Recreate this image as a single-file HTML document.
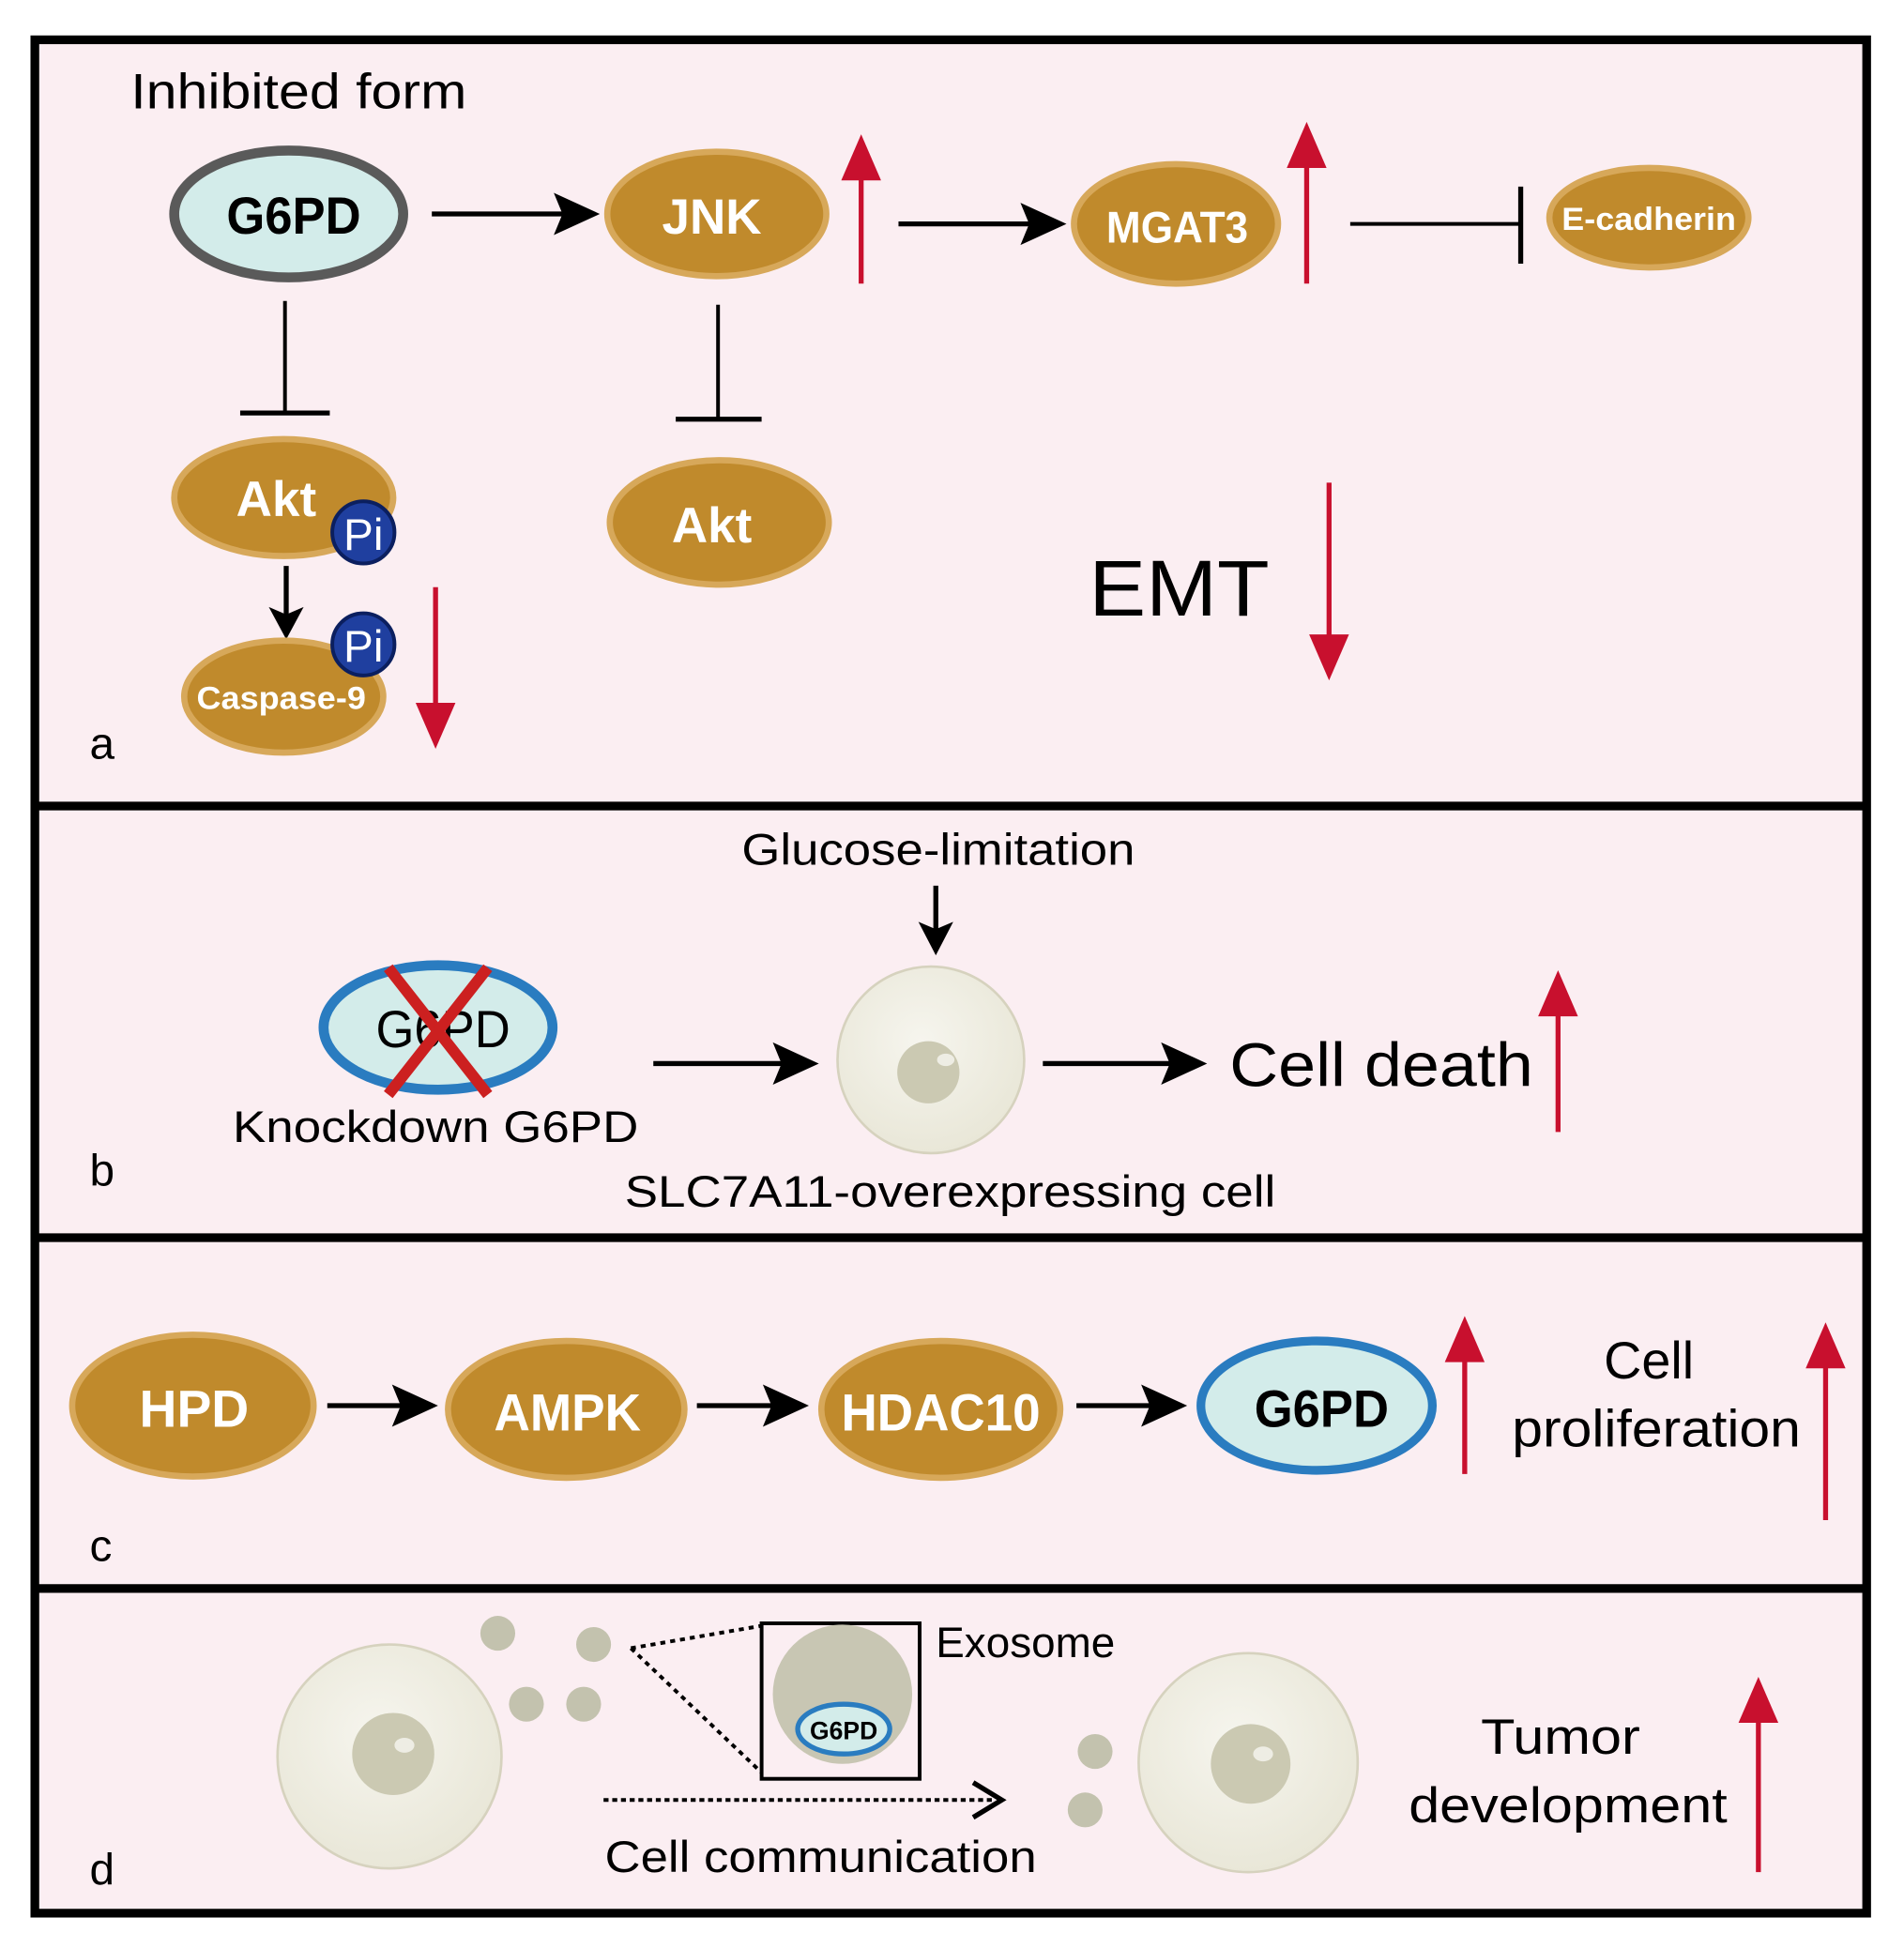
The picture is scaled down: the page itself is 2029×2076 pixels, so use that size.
<!DOCTYPE html>
<html><head><meta charset="utf-8"><style>html,body{margin:0;padding:0;background:#fff}svg{display:block}</style></head>
<body>
<svg width="2029" height="2076" viewBox="0 0 1530 1566" preserveAspectRatio="none" xmlns="http://www.w3.org/2000/svg" font-family="Liberation Sans, sans-serif">
<defs>
<radialGradient id="cell" cx="0.45" cy="0.4" r="0.6"><stop offset="0" stop-color="#f6f5ee"/><stop offset="1" stop-color="#e9e7d8"/></radialGradient>
</defs>
<rect x="0" y="0" width="1530" height="1566" fill="#fff"/>
<rect x="28" y="32" width="1472" height="1506" fill="#fbeef2" stroke="#000" stroke-width="7"/>
<line x1="28" y1="648" x2="1500" y2="648" stroke="#000" stroke-width="7"/>
<line x1="28" y1="995" x2="1500" y2="995" stroke="#000" stroke-width="7"/>
<line x1="28" y1="1277" x2="1500" y2="1277" stroke="#000" stroke-width="7"/>

<g id="a">
<text x="105" y="87" font-size="40" textLength="270" lengthAdjust="spacingAndGlyphs">Inhibited form</text>
<ellipse cx="232" cy="172" rx="92" ry="51" fill="#d3ecea" stroke="#5a5a5a" stroke-width="8"/>
<text x="236" y="188" font-size="42" font-weight="bold" text-anchor="middle" textLength="108" lengthAdjust="spacingAndGlyphs">G6PD</text>
<line x1="347" y1="172" x2="455" y2="172" stroke="#000" stroke-width="4"/>
<polygon points="482,172 445,155 452,172 445,189" fill="#000"/>
<ellipse cx="576" cy="172" rx="88" ry="50" fill="#c08a2c" stroke="#d7a85a" stroke-width="5"/>
<text x="572" y="188" font-size="40" font-weight="bold" fill="#fff" text-anchor="middle">JNK</text>
<line x1="692" y1="228" x2="692" y2="140" stroke="#c8102e" stroke-width="4"/>
<polygon points="692,108 676,145 708,145" fill="#c8102e"/>
<line x1="722" y1="180" x2="830" y2="180" stroke="#000" stroke-width="4"/>
<polygon points="857,180 820,163 827,180 820,197" fill="#000"/>
<ellipse cx="945" cy="180" rx="82" ry="48" fill="#c08a2c" stroke="#d7a85a" stroke-width="5"/>
<text x="946" y="195" font-size="36" font-weight="bold" fill="#fff" text-anchor="middle" textLength="114" lengthAdjust="spacingAndGlyphs">MGAT3</text>
<line x1="1050" y1="228" x2="1050" y2="130" stroke="#c8102e" stroke-width="4"/>
<polygon points="1050,98 1034,135 1066,135" fill="#c8102e"/>
<line x1="1085" y1="180" x2="1222" y2="180" stroke="#000" stroke-width="3"/>
<line x1="1222" y1="150" x2="1222" y2="212" stroke="#000" stroke-width="4"/>
<ellipse cx="1325" cy="175" rx="80" ry="40" fill="#c08a2c" stroke="#d7a85a" stroke-width="5"/>
<text x="1325" y="185" font-size="26" font-weight="bold" fill="#fff" text-anchor="middle" textLength="140" lengthAdjust="spacingAndGlyphs">E-cadherin</text>
<line x1="229" y1="242" x2="229" y2="332" stroke="#000" stroke-width="3"/>
<line x1="193" y1="332" x2="265" y2="332" stroke="#000" stroke-width="4"/>
<ellipse cx="228" cy="400" rx="88" ry="47" fill="#c08a2c" stroke="#d7a85a" stroke-width="5"/>
<text x="222" y="415" font-size="40" font-weight="bold" fill="#fff" text-anchor="middle">Akt</text>
<line x1="230" y1="455" x2="230" y2="495" stroke="#000" stroke-width="4"/>
<polygon points="230,514 216,488 230,494 244,488" fill="#000"/>
<ellipse cx="228" cy="560" rx="80" ry="45" fill="#c08a2c" stroke="#d7a85a" stroke-width="5"/>
<text x="226" y="570" font-size="26" font-weight="bold" fill="#fff" text-anchor="middle" textLength="136" lengthAdjust="spacingAndGlyphs">Caspase-9</text>
<circle cx="292" cy="428" r="25" fill="#1f3f9f" stroke="#0b1f5f" stroke-width="3"/>
<text x="292" y="442" font-size="36" fill="#fff" text-anchor="middle">Pi</text>
<circle cx="292" cy="518" r="25" fill="#1f3f9f" stroke="#0b1f5f" stroke-width="3"/>
<text x="292" y="532" font-size="36" fill="#fff" text-anchor="middle">Pi</text>
<line x1="350" y1="472" x2="350" y2="570" stroke="#c8102e" stroke-width="4"/>
<polygon points="350,602 334,565 366,565" fill="#c8102e"/>
<line x1="577" y1="245" x2="577" y2="337" stroke="#000" stroke-width="3"/>
<line x1="543" y1="337" x2="612" y2="337" stroke="#000" stroke-width="4"/>
<ellipse cx="578" cy="420" rx="88" ry="50" fill="#c08a2c" stroke="#d7a85a" stroke-width="5"/>
<text x="572" y="436" font-size="40" font-weight="bold" fill="#fff" text-anchor="middle">Akt</text>
<text x="875" y="495" font-size="64" textLength="145" lengthAdjust="spacingAndGlyphs">EMT</text>
<line x1="1068" y1="388" x2="1068" y2="515" stroke="#c8102e" stroke-width="4"/>
<polygon points="1068,547 1052,510 1084,510" fill="#c8102e"/>
<text x="72" y="610" font-size="36">a</text>
</g>

<g id="b">
<text x="596" y="695" font-size="36" textLength="316" lengthAdjust="spacingAndGlyphs">Glucose-limitation</text>
<line x1="752" y1="712" x2="752" y2="748" stroke="#000" stroke-width="4"/>
<polygon points="752,768 738,741 752,747 766,741" fill="#000"/>
<ellipse cx="352" cy="826" rx="92" ry="50" fill="#d3ecea" stroke="#2a7cc0" stroke-width="8"/>
<text x="356" y="842" font-size="42" text-anchor="middle" textLength="108" lengthAdjust="spacingAndGlyphs">G6PD</text>
<line x1="312" y1="778" x2="392" y2="880" stroke="#cc2020" stroke-width="9"/>
<line x1="392" y1="778" x2="312" y2="880" stroke="#cc2020" stroke-width="9"/>
<text x="187" y="918" font-size="36" textLength="326" lengthAdjust="spacingAndGlyphs">Knockdown G6PD</text>
<line x1="525" y1="855" x2="632" y2="855" stroke="#000" stroke-width="4"/>
<polygon points="658,855 621,838 628,855 621,872" fill="#000"/>
<circle cx="748" cy="852" r="75" fill="url(#cell)" stroke="#d6d2be" stroke-width="2"/>
<circle cx="746" cy="862" r="25" fill="#cbc9b2"/>
<ellipse cx="760" cy="852" rx="7" ry="5" fill="#eeede4"/>
<line x1="838" y1="855" x2="945" y2="855" stroke="#000" stroke-width="4"/>
<polygon points="970,855 933,838 940,855 933,872" fill="#000"/>
<text x="988" y="873" font-size="50" textLength="244" lengthAdjust="spacingAndGlyphs">Cell death</text>
<line x1="1252" y1="910" x2="1252" y2="812" stroke="#c8102e" stroke-width="4"/>
<polygon points="1252,780 1236,817 1268,817" fill="#c8102e"/>
<text x="502" y="970" font-size="36" textLength="523" lengthAdjust="spacingAndGlyphs">SLC7A11-overexpressing cell</text>
<text x="72" y="953" font-size="36">b</text>
</g>

<g id="c">
<ellipse cx="155" cy="1130" rx="97" ry="57" fill="#c08a2c" stroke="#d7a85a" stroke-width="5"/>
<text x="156" y="1147" font-size="42" font-weight="bold" fill="#fff" text-anchor="middle" textLength="88" lengthAdjust="spacingAndGlyphs">HPD</text>
<line x1="263" y1="1130" x2="328" y2="1130" stroke="#000" stroke-width="4"/>
<polygon points="352,1130 315,1113 322,1130 315,1147" fill="#000"/>
<ellipse cx="455" cy="1133" rx="95" ry="55" fill="#c08a2c" stroke="#d7a85a" stroke-width="5"/>
<text x="456" y="1150" font-size="42" font-weight="bold" fill="#fff" text-anchor="middle" textLength="118" lengthAdjust="spacingAndGlyphs">AMPK</text>
<line x1="560" y1="1130" x2="625" y2="1130" stroke="#000" stroke-width="4"/>
<polygon points="650,1130 613,1113 620,1130 613,1147" fill="#000"/>
<ellipse cx="756" cy="1133" rx="96" ry="55" fill="#c08a2c" stroke="#d7a85a" stroke-width="5"/>
<text x="756" y="1150" font-size="42" font-weight="bold" fill="#fff" text-anchor="middle" textLength="160" lengthAdjust="spacingAndGlyphs">HDAC10</text>
<line x1="865" y1="1130" x2="930" y2="1130" stroke="#000" stroke-width="4"/>
<polygon points="954,1130 917,1113 924,1130 917,1147" fill="#000"/>
<ellipse cx="1058" cy="1130" rx="93" ry="52" fill="#d3ecea" stroke="#2a7cc0" stroke-width="7"/>
<text x="1062" y="1147" font-size="42" font-weight="bold" text-anchor="middle" textLength="108" lengthAdjust="spacingAndGlyphs">G6PD</text>
<line x1="1177" y1="1185" x2="1177" y2="1090" stroke="#c8102e" stroke-width="4"/>
<polygon points="1177,1058 1161,1095 1193,1095" fill="#c8102e"/>
<text x="1325" y="1108" font-size="42" text-anchor="middle">Cell</text>
<text x="1215" y="1163" font-size="42" textLength="232" lengthAdjust="spacingAndGlyphs">proliferation</text>
<line x1="1467" y1="1222" x2="1467" y2="1095" stroke="#c8102e" stroke-width="4"/>
<polygon points="1467,1063 1451,1100 1483,1100" fill="#c8102e"/>
<text x="72" y="1255" font-size="36">c</text>
</g>

<g id="d">
<ellipse cx="313" cy="1412" rx="90" ry="90" fill="url(#cell)" stroke="#d6d2be" stroke-width="2"/>
<circle cx="316" cy="1410" r="33" fill="#cbc9b2"/>
<ellipse cx="325" cy="1403" rx="8" ry="6" fill="#eeede4"/>
<circle cx="400" cy="1313" r="14" fill="#c3c2ae"/>
<circle cx="477" cy="1322" r="14" fill="#c3c2ae"/>
<circle cx="423" cy="1370" r="14" fill="#c3c2ae"/>
<circle cx="469" cy="1370" r="14" fill="#c3c2ae"/>
<line x1="507" y1="1325" x2="612" y2="1307" stroke="#000" stroke-width="3" stroke-dasharray="4,4"/>
<line x1="507" y1="1325" x2="612" y2="1425" stroke="#000" stroke-width="3" stroke-dasharray="4,4"/>
<rect x="612" y="1305" width="127" height="125" fill="#fbeef2" stroke="#000" stroke-width="3"/>
<circle cx="677" cy="1362" r="56" fill="#c8c6b3"/>
<ellipse cx="678" cy="1390" rx="37" ry="20" fill="#d3ecea" stroke="#2a7cc0" stroke-width="4"/>
<text x="678" y="1398" font-size="20" font-weight="bold" text-anchor="middle">G6PD</text>
<text x="752" y="1332" font-size="34" textLength="144" lengthAdjust="spacingAndGlyphs">Exosome</text>
<line x1="485" y1="1447" x2="800" y2="1447" stroke="#000" stroke-width="3" stroke-dasharray="4,3"/>
<polyline points="782,1433 805,1447 782,1461" fill="none" stroke="#000" stroke-width="4"/>
<text x="486" y="1505" font-size="36" textLength="347" lengthAdjust="spacingAndGlyphs">Cell communication</text>
<circle cx="880" cy="1408" r="14" fill="#c3c2ae"/>
<circle cx="872" cy="1455" r="14" fill="#c3c2ae"/>
<circle cx="1003" cy="1417" r="88" fill="url(#cell)" stroke="#d6d2be" stroke-width="2"/>
<circle cx="1005" cy="1418" r="32" fill="#cbc9b2"/>
<ellipse cx="1015" cy="1410" rx="8" ry="6" fill="#eeede4"/>
<text x="1190" y="1410" font-size="40" textLength="128" lengthAdjust="spacingAndGlyphs">Tumor</text>
<text x="1132" y="1465" font-size="40" textLength="256" lengthAdjust="spacingAndGlyphs">development</text>
<line x1="1413" y1="1505" x2="1413" y2="1380" stroke="#c8102e" stroke-width="4"/>
<polygon points="1413,1348 1397,1385 1429,1385" fill="#c8102e"/>
<text x="72" y="1515" font-size="36">d</text>
</g>
</svg>
</body></html>
